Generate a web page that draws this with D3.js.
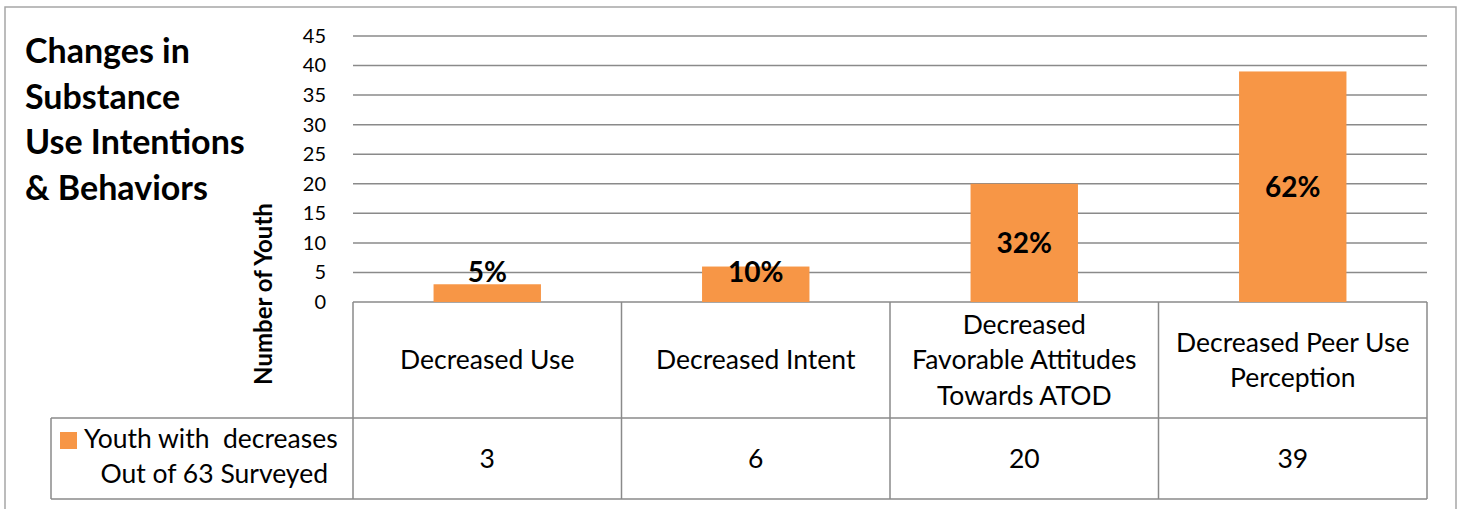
<!DOCTYPE html>
<html>
<head>
<meta charset="utf-8">
<script src="https://cdn.jsdelivr.net/npm/d3@7"></script>
<style>
  body { margin: 0; background: #fff; }
  text { font-family: Lato, "Open Sans", sans-serif; fill: #000; white-space: pre; }
</style>
</head>
<body>
<script>
// data
var categories = [
  ["Decreased Use"],
  ["Decreased Intent"],
  ["Decreased", "Favorable Attitudes", "Towards ATOD"],
  ["Decreased Peer Use", "Perception"]
];
var youthCounts = [3, 6, 20, 39];
var percentLabels = ["5%", "10%", "32%", "62%"];
var yTicks = [0, 5, 10, 15, 20, 25, 30, 35, 40, 45];
var titleLines = ["Changes in", "Substance", "Use Intentions", "& Behaviors"];
var legendLines = ["Youth with  decreases", "Out of 63 Surveyed"];

var width = 1459, height = 509;
var orange = "#f79646";
var gridColor = "#8a8a8a";

var plotLeft = 353, plotRight = 1427, plotTop = 36, plotBottom = 302;
var catRowBottom = 418, tableBottom = 499, legendLeft = 51;
var cellFont = "26.5px";

var svg = d3.select("body").append("svg")
    .attr("width", width)
    .attr("height", height);

// outer frame
svg.append("rect")
    .attr("x", 5).attr("y", 7)
    .attr("width", 1451).attr("height", 530)
    .attr("fill", "none")
    .attr("stroke", "#a6a6a6")
    .attr("stroke-width", 1.5);

var idx = d3.range(categories.length);

var x = d3.scaleBand()
    .domain(idx)
    .range([plotLeft, plotRight])
    .padding(0);

var y = d3.scaleLinear()
    .domain([0, 45])
    .range([plotBottom, plotTop]);

// gridlines
svg.selectAll("line.grid")
  .data(yTicks)
  .enter()
  .append("line")
    .attr("class", "grid")
    .attr("x1", plotLeft)
    .attr("x2", plotRight)
    .attr("y1", function(d) { return y(d); })
    .attr("y2", function(d) { return y(d); })
    .attr("stroke", gridColor)
    .attr("stroke-width", 1.5);

// y axis labels
var yAxis = d3.axisLeft(y)
    .tickValues(yTicks)
    .tickSize(0)
    .tickPadding(27);

var gy = svg.append("g")
    .attr("transform", "translate(" + plotLeft + ",0)")
    .call(yAxis);
gy.select(".domain").remove();
gy.selectAll("text")
    .attr("font-family", "Lato, sans-serif")
    .attr("font-size", "20px")
    .attr("fill", "#000");

// y axis title
svg.append("text")
    .attr("transform", "translate(272,294) rotate(-90)")
    .attr("text-anchor", "middle")
    .attr("font-size", "24px")
    .attr("font-weight", "bold")
    .text("Number of Youth");

// bars
var barW = x.bandwidth() * 0.4;
svg.selectAll("rect.bar")
  .data(youthCounts)
  .enter()
  .append("rect")
    .attr("class", "bar")
    .attr("x", function(d, i) { return x(i) + (x.bandwidth() - barW) / 2; })
    .attr("y", function(d) { return y(d); })
    .attr("width", barW)
    .attr("height", function(d) { return y(0) - y(d); })
    .attr("fill", orange);

// bar labels
svg.selectAll("text.pct")
  .data(youthCounts)
  .enter()
  .append("text")
    .attr("class", "pct")
    .attr("x", function(d, i) { return x(i) + x.bandwidth() / 2; })
    .attr("y", function(d) { return y(Math.max(d / 2, 5)); })
    .attr("dy", "0.35em")
    .attr("text-anchor", "middle")
    .attr("font-size", "28px")
    .attr("font-weight", "bold")
    .text(function(d, i) { return percentLabels[i]; });

// data table lines
var tbl = svg.append("g")
    .attr("stroke", gridColor)
    .attr("stroke-width", 1.5);

d3.range(categories.length + 1).forEach(function(i) {
  var xx = i < categories.length ? x(i) : plotRight;
  tbl.append("line")
    .attr("x1", xx).attr("x2", xx)
    .attr("y1", plotBottom).attr("y2", tableBottom);
});
tbl.append("line")
    .attr("x1", legendLeft).attr("x2", plotRight)
    .attr("y1", catRowBottom).attr("y2", catRowBottom);
tbl.append("line")
    .attr("x1", legendLeft).attr("x2", plotRight)
    .attr("y1", tableBottom).attr("y2", tableBottom);
tbl.append("line")
    .attr("x1", legendLeft).attr("x2", legendLeft)
    .attr("y1", catRowBottom).attr("y2", tableBottom);

// category labels
var lineH = 35.5;
categories.forEach(function(lines, i) {
  var cy = (plotBottom + catRowBottom) / 2;
  var t = svg.append("text")
      .attr("text-anchor", "middle")
      .attr("font-size", cellFont);
  lines.forEach(function(l, j) {
    t.append("tspan")
      .attr("x", x(i) + x.bandwidth() / 2)
      .attr("y", cy + (j - (lines.length - 1) / 2) * lineH)
      .attr("dy", "0.35em")
      .text(l);
  });
});

// value row
svg.selectAll("text.val")
  .data(youthCounts)
  .enter()
  .append("text")
    .attr("class", "val")
    .attr("x", function(d, i) { return x(i) + x.bandwidth() / 2; })
    .attr("y", (catRowBottom + tableBottom) / 2)
    .attr("dy", "0.35em")
    .attr("text-anchor", "middle")
    .attr("font-size", cellFont)
    .text(function(d) { return d; });

// legend cell
svg.append("rect")
    .attr("x", 60).attr("y", 432)
    .attr("width", 17).attr("height", 17)
    .attr("fill", orange);
svg.append("text")
    .attr("x", 84).attr("y", 448)
    .attr("font-size", cellFont)
    .text(legendLines[0]);
svg.append("text")
    .attr("x", 328).attr("y", 483)
    .attr("text-anchor", "end")
    .attr("font-size", cellFont)
    .text(legendLines[1]);

// title
svg.selectAll("text.title")
  .data(titleLines)
  .enter()
  .append("text")
    .attr("class", "title")
    .attr("x", 25)
    .attr("y", function(d, i) { return 63 + i * 45.7; })
    .attr("font-size", "34px")
    .attr("font-weight", "bold")
    .text(function(d) { return d; });
</script>
</body>
</html>
